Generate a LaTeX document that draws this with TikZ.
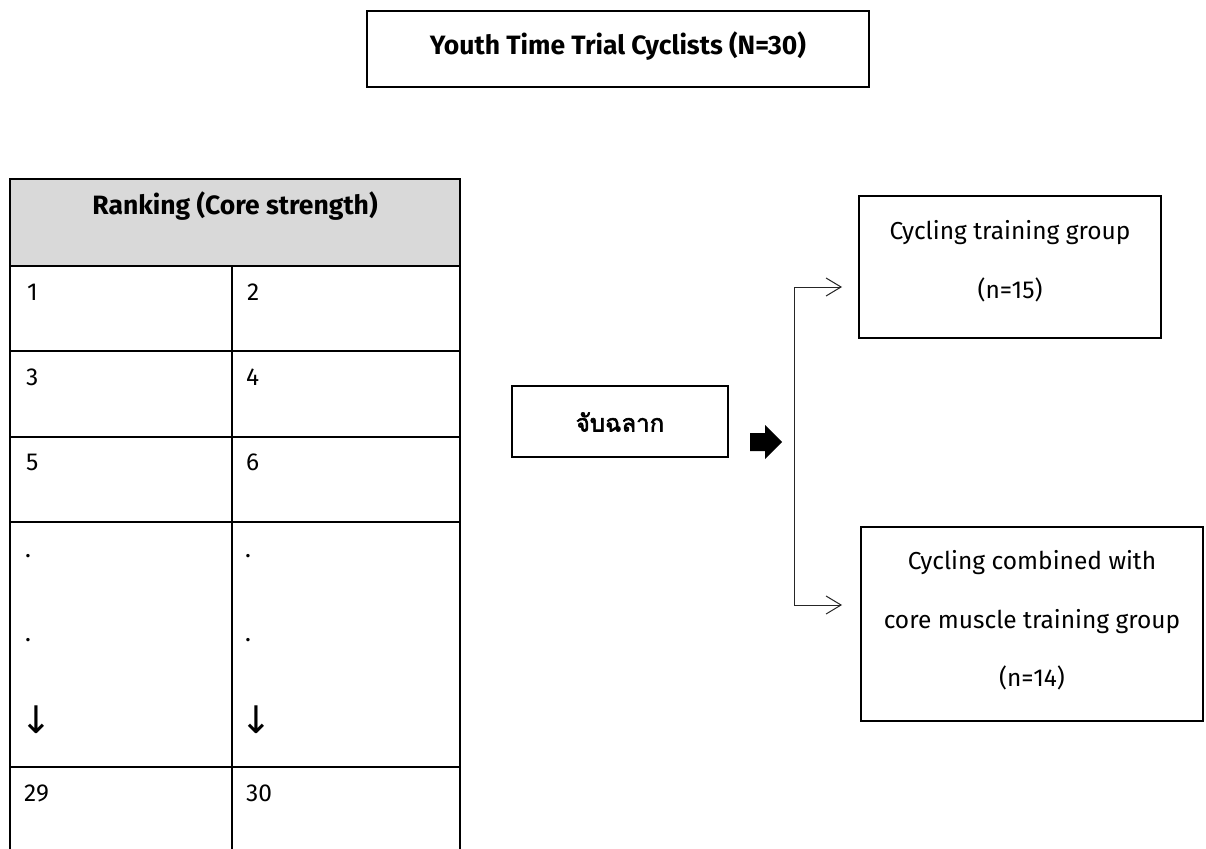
\documentclass[tikz,border=0pt]{standalone}
\usepackage{fontspec}
\setmainfont{Fira Sans}
\newfontfamily\thaifont[Script=Thai, AutoFakeBold=2.5]{Loma}
\newfontfamily\dejavu{DejaVu Sans}
\usetikzlibrary{arrows.meta}
\tikzset{
  box/.style={draw, line width=2pt, inner sep=0pt},
  txt/.style={font=\fontsize{24.5}{28}\selectfont, inner sep=0pt},
  btxt/.style={font=\fontsize{26.5}{30}\selectfont\bfseries, inner sep=0pt},
  cell/.style={font=\fontsize{24.5}{28}\selectfont, inner sep=0pt, anchor=base west},
  grid/.style={line width=2pt},
  conn/.style={line width=1pt, draw=black!85, {Straight Barb[length=15pt,width=18pt,line width=1pt]}-{Straight Barb[length=15pt,width=18pt,line width=1pt]}},
}
\begin{document}
\begin{tikzpicture}[x=1pt,y=-1pt]
\useasboundingbox (0,0) rectangle (1206,848);
% title
\node[box, minimum width=502pt, minimum height=76pt] (title) at (618,49) {};
\node[btxt] (titletxt) at (618,46) {Youth Time Trial Cyclists (N=30)};
% table
\fill[black!15] (10,179) rectangle (460,266);
\draw[grid] (10,849) -- (10,179) -- (460,179) -- (460,849);
\draw[grid] (10,266) -- (460,266);
\draw[grid] (10,351) -- (460,351);
\draw[grid] (10,437) -- (460,437);
\draw[grid] (10,522) -- (460,522);
\draw[grid] (10,767) -- (460,767);
\draw[grid] (232,266) -- (232,849);
\node[btxt] (head) at (235,206) {Ranking (Core strength)};
\node[cell] (c1) at (27,300) {1};
\node[cell] (c2) at (247,300) {2};
\node[cell] (c3) at (26,385) {3};
\node[cell] (c4) at (246,385) {4};
\node[cell] (c5) at (26,470) {5};
\node[cell] (c6) at (246,470) {6};
\node[cell] (d1) at (25,557) {.};
\node[cell] (d2) at (245,557) {.};
\node[cell] (d3) at (25,641) {.};
\node[cell] (d4) at (245,641) {.};
\node[cell, font=\fontsize{38}{40}\dejavu] (a1) at (20,733) {↓};
\node[cell, font=\fontsize{38}{40}\dejavu] (a2) at (240,733) {↓};
\node[cell] (c29) at (24,801) {29};
\node[cell] (c30) at (246,801) {30};
% lottery box
\node[box, minimum width=216pt, minimum height=71pt] (lot) at (620,421.5) {};
\node[btxt, font=\fontsize{24}{28}\thaifont\bfseries] (lottxt) at (620,422) {จับฉลาก};
% block arrow
\fill (750,433) -- (765,433) -- (765,425) -- (782,442) -- (765,459) -- (765,451) -- (750,451) -- cycle;
% group boxes
\node[box, minimum width=302pt, minimum height=142pt] (g1) at (1010,267) {};
\node[txt] (g1a) at (1010,233) {Cycling training group};
\node[txt] (g1b) at (1010,290) {(n=15)};
\node[box, minimum width=342pt, minimum height=194pt] (g2) at (1032,624) {};
\node[txt] (g2a) at (1032,563) {Cycling combined with};
\node[txt] (g2b) at (1032,622) {core muscle training group};
\node[txt] (g2c) at (1032,678) {(n=14)};
% connectors
\coordinate (t1) at (842,287);
\coordinate (t2) at (842,605);
\coordinate (k1) at (794,287);
\coordinate (k2) at (794,605);
\draw[conn] (t1) -- (k1) -- (k2) -- (t2);
\end{tikzpicture}
\end{document}
